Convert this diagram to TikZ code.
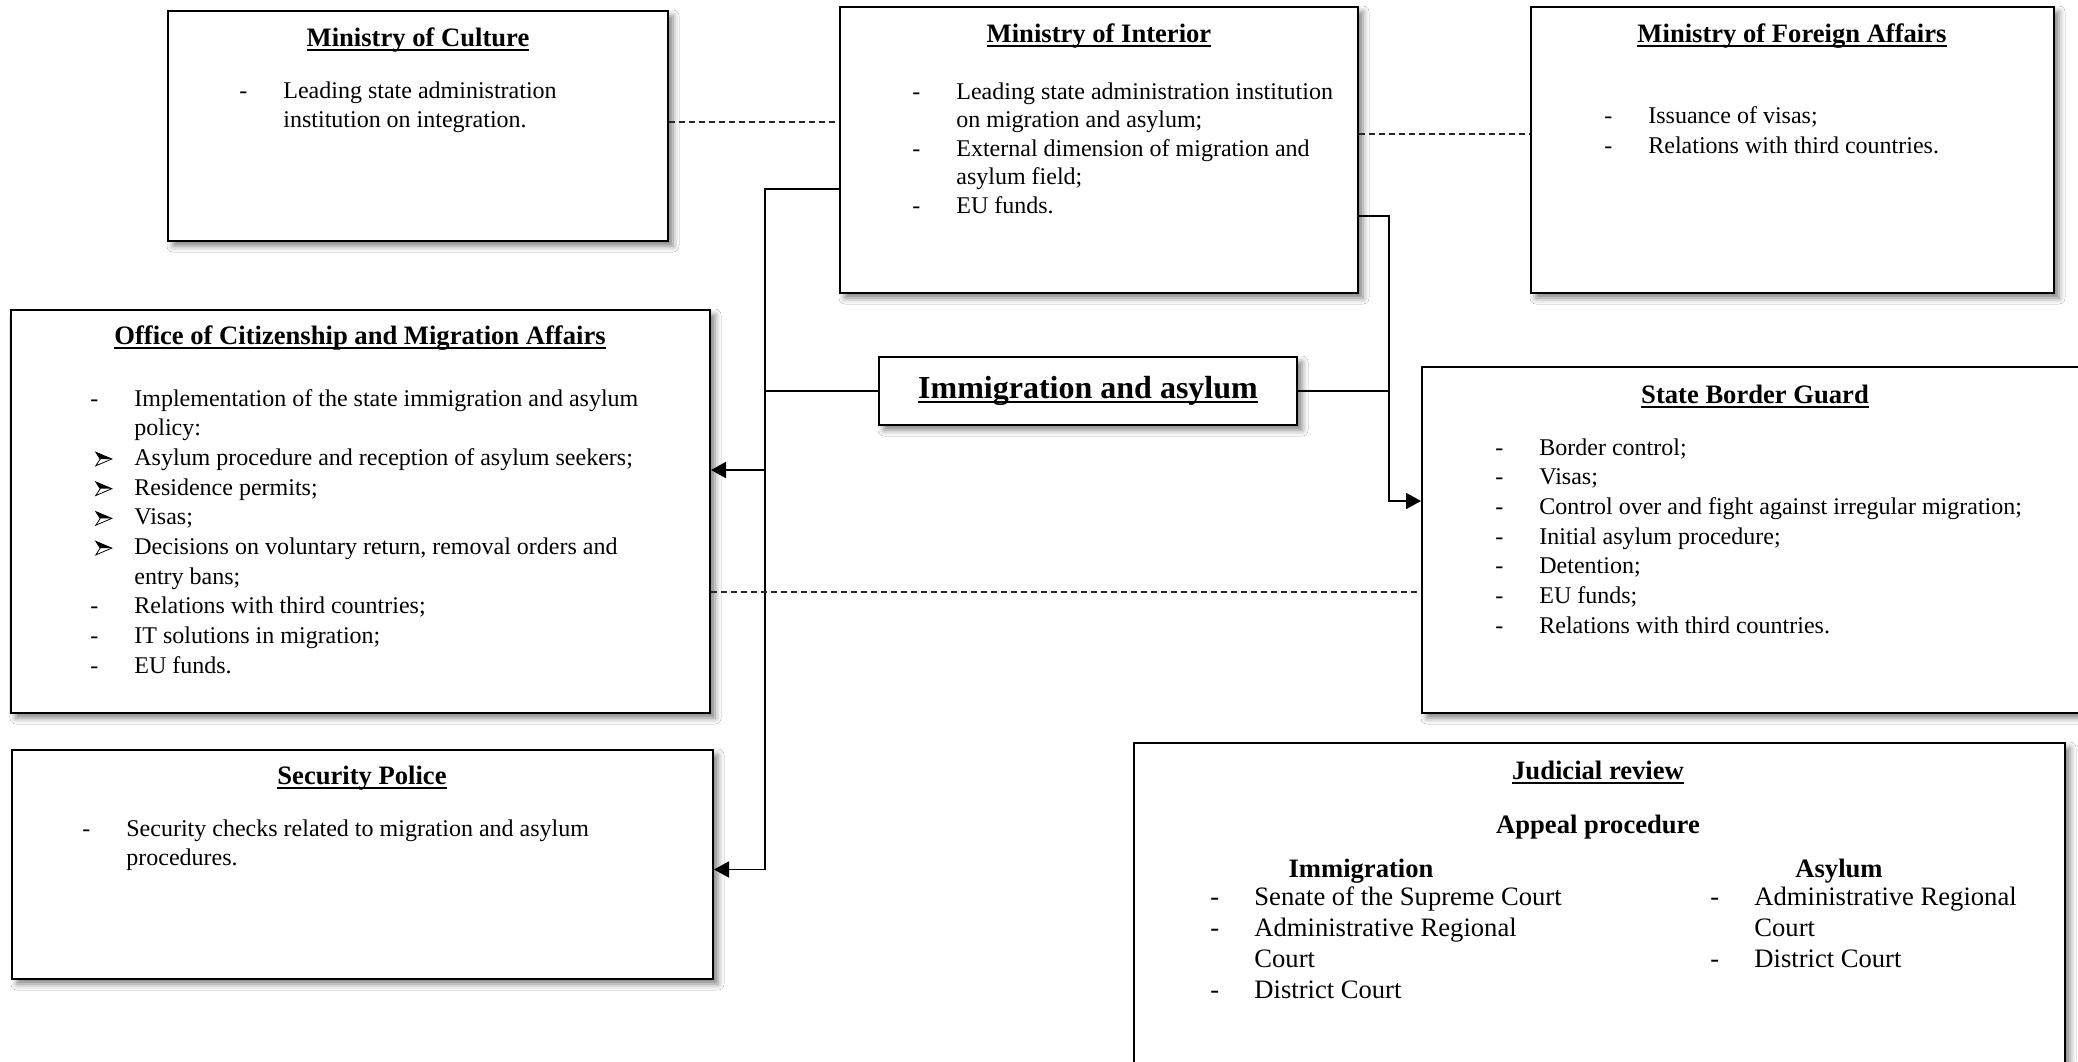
\documentclass[tikz,border=0pt]{standalone}
\usepackage{fontspec}
\setmainfont{Liberation Serif}
\usetikzlibrary{arrows.meta,calc,shadows.blur}
\newlength\ind
\setlength\ind{22pt}
\newcommand\ulx[1]{\setbox0\hbox{#1}\rlap{\raisebox{-2.6pt}{\rule{\wd0}{1pt}}}\box0}
\newcommand\dd{\makebox[\ind][l]{-}}
\newcommand\cc{\hspace*{\ind}}
\newcommand\aab{\makebox[\ind][l]{\hspace*{2.5pt}\tikz[baseline=-3.2pt,x=1pt,y=1pt]{\draw[line width=0.4pt,fill=white,line join=miter] (0,3.4) -- (8,0) -- (0,-3.4) -- (2.2,0) -- cycle; \fill (0,3.4) -- (8,0) -- (2.2,0) -- cycle;}}}
\newcommand\bodyf{\fontsize{12}{14.85}\selectfont}
\newcommand\moif{\fontsize{12}{14.25}\selectfont}
\newcommand\ttlf{\fontsize{13.3}{16}\selectfont\bfseries}
\newcommand\judf{\fontsize{13.3}{15.5}\selectfont}
\tikzset{
  box/.style={draw=black, line width=1pt, fill=white, inner sep=0pt,
    blur shadow={shadow xshift=2.5pt, shadow yshift=-2.5pt, shadow blur radius=3pt, shadow opacity=50}},
  txt/.style={anchor=base west, align=left, inner sep=0pt},
  ttl/.style={anchor=base, inner sep=0pt, font=\ttlf},
  conn/.style={line width=0.9pt, draw=black},
  arr/.style={conn, -{Triangle[length=7.5pt,width=8pt]}},
  dsh/.style={line width=0.6pt, dashed, dash pattern=on 3pt off 2pt, draw=black!85}
}
\begin{document}
\begin{tikzpicture}[x=0.5pt,y=-0.5pt]
\useasboundingbox (0,0) rectangle (2078,1061);
\fill[white] (0,0) rectangle (2078,1061);
% boxes
\node[box, minimum width=250pt, minimum height=115pt] (cult) at (418,126) {};
\node[box, minimum width=259pt, minimum height=143pt] (moi) at (1099,150) {};
\node[box, minimum width=261.5pt, minimum height=143pt] (mfa) at (1792.5,150) {};
\node[box, minimum width=349.5pt, minimum height=201.5pt] (ocma) at (360.5,511.5) {};
\node[box, minimum width=209pt, minimum height=34pt] (imm) at (1088,391) {};
\node[box, minimum width=339pt, minimum height=173pt] (sbg) at (1761,540) {};
\node[box, minimum width=350.5pt, minimum height=114.5pt] (secp) at (362.5,864.5) {};
\node[box, minimum width=465.5pt, minimum height=178.5pt] (jud) at (1599.5,921.5) {};
% Ministry of Culture (multi-line nodes: base anchor = last line baseline)
\node[ttl] (cultH) at (418,46) {\ulx{Ministry of Culture}};
\node[txt, font=\bodyf] (cultB) at (239,127.7) {\dd Leading state administration\\\cc institution on integration.};
% Ministry of Interior
\node[ttl] (moiH) at (1099,42) {\ulx{Ministry of Interior}};
\node[txt, font=\moif] (moiB) at (912,213) {\dd Leading state administration institution\\\cc on migration and asylum;\\\dd External dimension of migration and\\\cc asylum field;\\\dd EU funds.};
% Ministry of Foreign Affairs
\node[ttl] (mfaH) at (1792,42) {\ulx{Ministry of Foreign Affairs}};
\node[txt, font=\bodyf] (mfaB) at (1604,153.5) {\dd Issuance of visas;\\\dd Relations with third countries.};
% Office of Citizenship
\node[ttl] (ocmaH) at (360,344) {\ulx{Office of Citizenship and Migration Affairs}};
\node[txt, font=\bodyf] (ocmaB) at (90,673.3) {\dd Implementation of the state immigration and asylum\\\cc policy:\\\aab Asylum procedure and reception of asylum seekers;\\\aab Residence permits;\\\aab Visas;\\\aab Decisions on voluntary return, removal orders and\\\cc entry bans;\\\dd Relations with third countries;\\\dd IT solutions in migration;\\\dd EU funds.};
% Immigration and asylum
\node[anchor=base, inner sep=0pt, font=\fontsize{16}{19}\selectfont\bfseries] (immH) at (1088,398) {\ulx{Immigration and asylum}};
% State Border Guard
\node[ttl] (sbgH) at (1755,403) {\ulx{State Border Guard}};
\node[txt, font=\bodyf] (sbgB) at (1495,633.2) {\dd Border control;\\\dd Visas;\\\dd Control over and fight against irregular migration;\\\dd Initial asylum procedure;\\\dd Detention;\\\dd EU funds;\\\dd Relations with third countries.};
% Security Police
\node[ttl] (secpH) at (362,784) {\ulx{Security Police}};
\node[txt, font=\bodyf] (secpB) at (82,865.7) {\dd Security checks related to migration and asylum\\\cc procedures.};
% Judicial review
\node[ttl] (judH) at (1598,779) {\ulx{Judicial review}};
\node[anchor=base, inner sep=0pt, font=\judf\bfseries] (appH) at (1598,833) {Appeal procedure};
\node[anchor=base, inner sep=0pt, font=\judf\bfseries] (immJ) at (1361,877) {Immigration};
\node[anchor=base, inner sep=0pt, font=\judf\bfseries] (asyJ) at (1839,877) {Asylum};
\node[txt, font=\judf] (judL) at (1210,998) {\dd Senate of the Supreme Court\\\dd Administrative Regional\\\cc Court\\\dd District Court};
\node[txt, font=\judf] (judR) at (1710,967) {\dd Administrative Regional\\\cc Court\\\dd District Court};
% connectors
\coordinate (lx) at (765,0);
\coordinate (rx) at (1389,0);
\draw[dsh] ([yshift=2pt]cult.east) -- ([yshift=2pt]cult.east -| moi.west);
\draw[dsh] ([yshift=8pt]moi.east) -- ([yshift=8pt]moi.east -| mfa.west);
\coordinate (mw) at ([yshift=-19.5pt]moi.west);
\coordinate (sp) at ([yshift=-2.5pt]secp.east);
\coordinate (oc) at ([yshift=20.75pt]ocma.east);
\draw[arr] (mw) -| (sp -| lx) -- (sp);
\draw[arr] (oc -| lx) -- (oc);
\draw[conn, line width=0.7pt] (imm.west) -- (imm.west -| lx);
\coordinate (me) at ([yshift=-33pt]moi.east);
\coordinate (sb) at ([yshift=19.5pt]sbg.west);
\draw[arr] (me) -| (sb -| rx) -- (sb);
\draw[conn, line width=0.7pt] (imm.east) -- (imm.east -| rx);
\coordinate (od) at ([yshift=-40.25pt]ocma.east);
\draw[dsh] (od) -- (od -| sbg.west);
\end{tikzpicture}
\end{document}
